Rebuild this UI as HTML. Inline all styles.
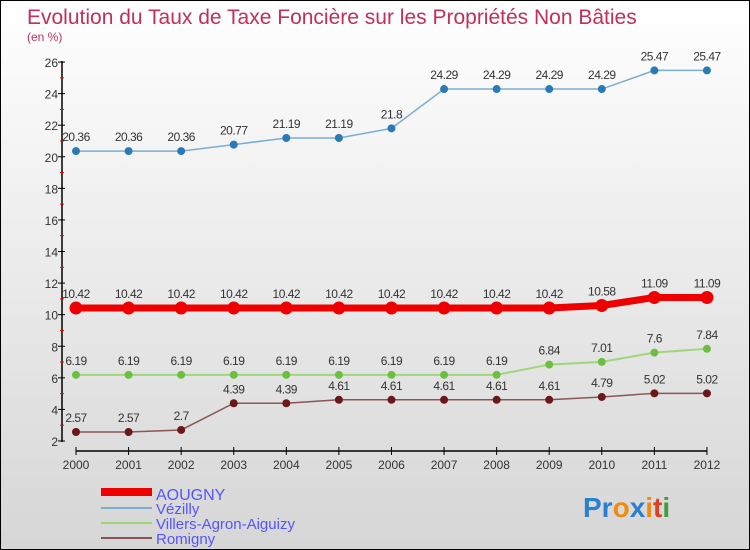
<!DOCTYPE html>
<html><head><meta charset="utf-8"><style>
body{margin:0}
#c{width:748px;height:548px;border:1px solid #000;background:linear-gradient(#ffffff,#d6d6d6);position:relative;overflow:hidden;font-family:"Liberation Sans",sans-serif}
</style></head><body>
<div id="c">
<svg id="s" width="748" height="548" xmlns="http://www.w3.org/2000/svg">
<text x="26" y="23" font-size="21" fill="#c0305a">Evolution du Taux de Taxe Foncière sur les Propriétés Non Bâties</text>
<text x="26" y="40" font-size="12" fill="#c0305a">(en %)</text>
<g id="axes"></g><g id="series"></g>
<g>
<rect x="100" y="487" width="51" height="8" fill="#ee0000"/>
<text x="155" y="499" font-size="16" fill="#5555ff">AOUGNY</text>
<rect x="100" y="506" width="51" height="2" fill="#7aaed0"/>
<text x="155" y="513" font-size="15" fill="#5555ff">Vézilly</text>
<rect x="100" y="521" width="51" height="2" fill="#9ed67a"/>
<text x="155" y="528" font-size="15" fill="#5555ff">Villers-Agron-Aiguizy</text>
<rect x="100" y="536" width="51" height="2" fill="#8a5555"/>
<text x="155" y="543" font-size="15" fill="#5555ff">Romigny</text>
</g>
<text x="582" y="516" font-size="28" font-weight="bold"><tspan fill="#2a7fd0">Pr</tspan><tspan fill="#f08a10">o</tspan><tspan fill="#2a7fd0">x</tspan><tspan fill="#f08a10">i</tspan><tspan fill="#e04020">t</tspan><tspan fill="#40a040">i</tspan></text>
</svg></div>
<script>
const years=["2000","2001","2002","2003","2004","2005","2006","2007","2008","2009","2010","2011","2012"];
const aougny=[10.42,10.42,10.42,10.42,10.42,10.42,10.42,10.42,10.42,10.42,10.58,11.09,11.09];
const vezilly=[20.36,20.36,20.36,20.77,21.19,21.19,21.8,24.29,24.29,24.29,24.29,25.47,25.47];
const villers=[6.19,6.19,6.19,6.19,6.19,6.19,6.19,6.19,6.19,6.84,7.01,7.6,7.84];
const romigny=[2.57,2.57,2.7,4.39,4.39,4.61,4.61,4.61,4.61,4.61,4.79,5.02,5.02];
const yTicks=[2,4,6,8,10,12,14,16,18,20,22,24,26];
const NS="http://www.w3.org/2000/svg";
const X=i=>75+i*52.58, Y=v=>440-(v-2)*15.79;
function mk(t,a,p){const e=document.createElementNS(NS,t);for(const k in a)e.setAttribute(k,a[k]);p.appendChild(e);return e;}
const ax=document.getElementById('axes');
let e=mk('line',{x1:61,y1:60,x2:61,y2:441,stroke:'#000','stroke-width':1.5},ax);

e=mk('line',{x1:75,y1:450,x2:706,y2:450,stroke:'#000','stroke-width':1.5},ax);

yTicks.forEach(v=>{
 mk('line',{x1:57,y1:Y(v),x2:64,y2:Y(v),stroke:'#000'},ax);
 if(v<26)mk('line',{x1:59,y1:Y(v+1),x2:63,y2:Y(v+1),stroke:'#f00'},ax);
 e=mk('text',{x:57,y:Y(v)+5,'font-size':12,fill:'#333','text-anchor':'end'},ax);e.textContent=v;
 
});
years.forEach((y,i)=>{
 mk('line',{x1:X(i),y1:446,x2:X(i),y2:454,stroke:'#000'},ax);
 e=mk('text',{x:X(i),y:468,'font-size':12,fill:'#333','text-anchor':'middle'},ax);e.textContent=y;
 
});
const sg=document.getElementById('series');
function series(name,data,col,dot,w,r){
 const g=mk('g',{},sg);
 
 const l=mk('polyline',{points:data.map((v,i)=>X(i)+','+Y(v)).join(' '),fill:'none',stroke:col,'stroke-width':w},g);
 
 data.forEach((v,i)=>{
  const c=mk('circle',{cx:X(i),cy:Y(v),r:r,fill:dot},g);
  
  const t=mk('text',{x:X(i),y:Y(v)-10,'font-size':12,fill:'#333','text-anchor':'middle','letter-spacing':'-0.5'},g);
  t.textContent=String(v).replace(/^(\d)\.(\d\d)$/,'$1$2').replace('.','.');
  t.textContent=String(v);
  
 });
}
series('vezilly',vezilly,'#7aaed0','#2a7ab8',1.5,4);
series('villers',villers,'#9ed67a','#6cc040',2,4);
series('romigny',romigny,'#8a5555','#6a1818',1.5,4);
series('aougny',aougny,'#ee0000','#ee0000',7,6.5);
</script>
</body></html>
